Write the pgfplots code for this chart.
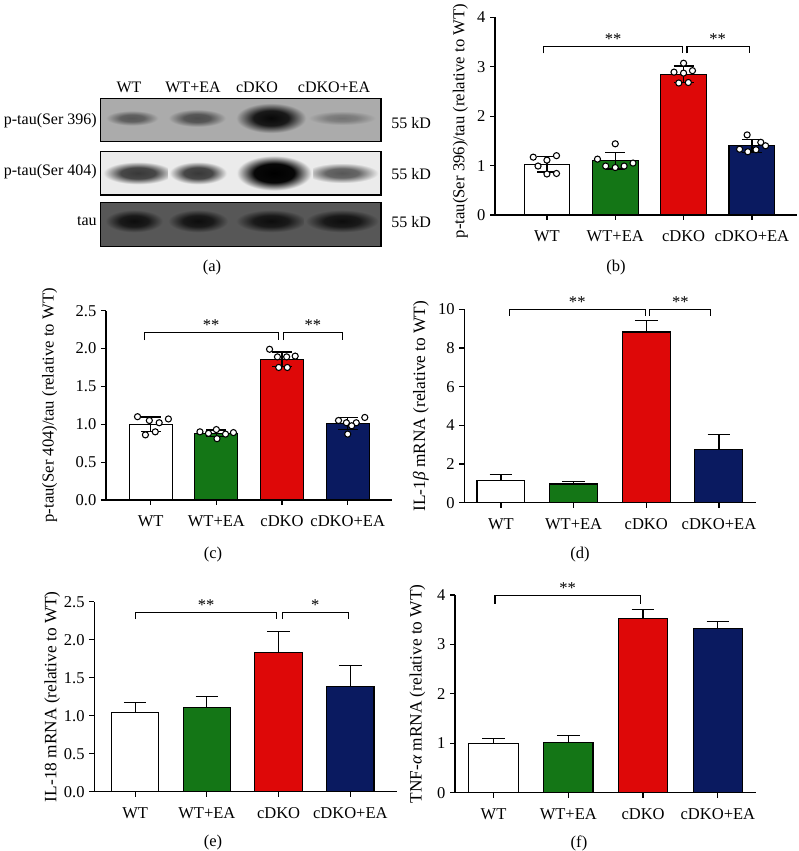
\documentclass[border=0pt]{standalone}
\usepackage{fontspec}
\setmainfont{Liberation Serif}
\usepackage{pgfplots}
\pgfplotsset{compat=1.18}
\definecolor{cgreen}{RGB}{20,118,22}
\definecolor{cred}{RGB}{222,8,8}
\definecolor{cnavy}{RGB}{10,26,96}
\newcommand\ff{\fontsize{12.4}{14.5}\selectfont}
\newcommand\fb{\fontsize{12}{14}\selectfont}
\newcommand\fy{\fontsize{13}{15}\selectfont}
\newcommand\fyp{\fontsize{12.5}{15}\selectfont}

\pgfdeclareradialshading{sOneA}{\pgfpoint{0bp}{0bp}}{color(0bp)=(black!66); color(11bp)=(black!62); color(24bp)=(black!33); color(50bp)=(black!33)}
\pgfdeclareradialshading{sOneB}{\pgfpoint{0bp}{0bp}}{color(0bp)=(black!70); color(11bp)=(black!66); color(24bp)=(black!33); color(50bp)=(black!33)}
\pgfdeclareradialshading{sOneC}{\pgfpoint{0bp}{0bp}}{color(0bp)=(black!97); color(12bp)=(black!90); color(24bp)=(black!33); color(50bp)=(black!33)}
\pgfdeclareradialshading{sOneD}{\pgfpoint{0bp}{0bp}}{color(0bp)=(black!55); color(11bp)=(black!50); color(24bp)=(black!33); color(50bp)=(black!33)}
\pgfdeclareradialshading{sTwoA}{\pgfpoint{0bp}{0bp}}{color(0bp)=(black!78); color(12bp)=(black!72); color(24bp)=(black!8); color(50bp)=(black!8)}
\pgfdeclareradialshading{sTwoC}{\pgfpoint{0bp}{0bp}}{color(0bp)=(black!100); color(13bp)=(black!97); color(24bp)=(black!8); color(50bp)=(black!8)}
\pgfdeclareradialshading{sTwoD}{\pgfpoint{0bp}{0bp}}{color(0bp)=(black!66); color(11bp)=(black!60); color(24bp)=(black!8); color(50bp)=(black!8)}
\pgfdeclareradialshading{sThree}{\pgfpoint{0bp}{0bp}}{color(0bp)=(black!95); color(12bp)=(black!90); color(24bp)=(black!66); color(50bp)=(black!66)}

\pgfplotsset{
  gp/.style={
    anchor=south west, scale only axis, clip=false,
    axis lines=left, axis line style={-, line width=0.9pt, black},
    ymin=0, xtick={0,1,2,3}, xticklabels={WT,WT+EA,cDKO,cDKO+EA},
    tick align=outside, major tick length=3.75pt,
    tick style={line width=0.9pt, black},
    tick label style={font=\ff},
    xticklabel style={yshift=-4.5pt},
    /pgf/number format/assume math mode=true,
    ylabel style={font=\fy},
  },
  onedec/.style={yticklabel style={/pgf/number format/.cd, fixed, fixed zerofill, precision=1}},
  bb/.style={ybar, bar shift=0pt, draw=black, line width=0.8pt, fill=#1},
  ebboth/.style={error bars/y dir=both, error bars/y explicit,
    error bars/error bar style={line width=0.9pt, black},
    error bars/error mark options={rotate=90, line width=0.9pt, black, mark size=7.5pt}},
  ebplus/.style={error bars/y dir=plus, error bars/y explicit,
    error bars/error bar style={line width=0.9pt, black},
    error bars/error mark options={rotate=90, line width=0.9pt, black, mark size=8.5pt}},
  pts/.style={only marks, mark=*, mark size=2.3pt, mark options={fill=white, draw=black, line width=0.8pt}},
  brk/.style={black, line width=0.8pt, mark=none},
}

\begin{document}
\begin{tikzpicture}
\useasboundingbox (0,0) rectangle (599.25pt,638.25pt);

% ---------- overlay axis: western blot (a) and panel letters ----------
\begin{axis}[at={(0pt,0pt)}, anchor=south west, scale only axis,
  width=599.25pt, height=638.25pt, xmin=0, xmax=799, ymin=0, ymax=851,
  y dir=reverse, axis lines=none, clip=false]
\addplot[fill=black!33, draw=none] coordinates {(100.7,98.3) (381,98.3) (381,141.7) (100.7,141.7)} -- cycle;
\addplot[fill=black!8, draw=none] coordinates {(100.7,151.7) (381,151.7) (381,195) (100.7,195)} -- cycle;
\addplot[fill=black!66, draw=none] coordinates {(100.7,202.3) (381,202.3) (381,246.7) (100.7,246.7)} -- cycle;
% strip 1 bands
\shade[shading=sOneA] (axis cs:104.7,110.2) rectangle (axis cs:159.3,125.8);
\shade[shading=sOneB] (axis cs:167.1,108.9) rectangle (axis cs:226.9,127.1);
\shade[shading=sOneD] (axis cs:306.9,110.8) rectangle (axis cs:377.1,125.2);
\shade[shading=sOneC] (axis cs:234.6,102.4) rectangle (axis cs:307.4,133.6);
% strip 2 bands
\shade[shading=sTwoA] (axis cs:101.6,161.3) rectangle (axis cs:174.4,184.7);
\shade[shading=sTwoA] (axis cs:168.1,161.3) rectangle (axis cs:227.9,184.7);
\shade[shading=sTwoD] (axis cs:304.3,162.6) rectangle (axis cs:379.7,183.4);
\shade[shading=sTwoC] (axis cs:235,154.8) rectangle (axis cs:313,191.2);
% strip 3 bands
\shade[shading=sThree] (axis cs:104.1,209.3) rectangle (axis cs:163.9,232.7);
\shade[shading=sThree] (axis cs:166.8,209.3) rectangle (axis cs:229.2,232.7);
\shade[shading=sThree] (axis cs:234.6,209.3) rectangle (axis cs:307.4,232.7);
\shade[shading=sThree] (axis cs:304,209.3) rectangle (axis cs:380,232.7);
% borders
\addplot[draw=black, line width=0.9pt] coordinates {(100.7,98.3) (381,98.3) (381,141.7) (100.7,141.7)} -- cycle;
\addplot[draw=black, line width=0.9pt] coordinates {(100.7,151.7) (381,151.7) (381,195) (100.7,195)} -- cycle;
\addplot[draw=black, line width=0.9pt] coordinates {(100.7,202.3) (381,202.3) (381,246.7) (100.7,246.7)} -- cycle;
% blot labels
\node[font=\fb] at (axis cs:129,87) {WT};
\node[font=\fb] at (axis cs:193,87) {WT+EA};
\node[font=\fb] at (axis cs:257,87) {cDKO};
\node[font=\fb] at (axis cs:334,87) {cDKO+EA};
\node[font=\fb, anchor=east, inner sep=0pt] at (axis cs:97,121) {p-tau(Ser 396)};
\node[font=\fb, anchor=east, inner sep=0pt] at (axis cs:97,172) {p-tau(Ser 404)};
\node[font=\fb, anchor=east, inner sep=0pt] at (axis cs:97,221) {tau};
\node[font=\fb, anchor=west, inner sep=0pt] at (axis cs:391,123) {55 kD};
\node[font=\fb, anchor=west, inner sep=0pt] at (axis cs:391,174) {55 kD};
\node[font=\fb, anchor=west, inner sep=0pt] at (axis cs:391,222) {55 kD};
% panel letters
\node[font=\ff] at (axis cs:212,268) {(a)};
\node[font=\ff] at (axis cs:616,268) {(b)};
\node[font=\ff] at (axis cs:213,555) {(c)};
\node[font=\ff] at (axis cs:580,555) {(d)};
\node[font=\ff] at (axis cs:213,843) {(e)};
\node[font=\ff] at (axis cs:579,843) {(f)};
\end{axis}

% ---------- (b) ----------
\begin{axis}[gp, at={(371.25pt,477pt)}, width=226.5pt, height=148.3pt,
  xmin=-0.76, xmax=3.66, ymax=4, ytick={0,1,2,3,4}, bar width=0.67,
  ylabel={p-tau(Ser 396)/tau (relative to WT)},
  ylabel style={font=\fyp, at={(ticklabel cs:0.475)}}]
\addplot[bb=white, ebboth] coordinates {(0,1.03) +- (0,0.16)};
\addplot[bb=cgreen, ebboth] coordinates {(1,1.10) +- (0,0.17)};
\addplot[bb=cred, ebboth] coordinates {(2,2.85) +- (0,0.165)};
\addplot[bb=cnavy, ebboth] coordinates {(3,1.40) +- (0,0.13)};
\addplot[pts] coordinates {(-0.20,1.17) (0.00,1.11) (0.14,1.20) (-0.13,0.99) (0.00,0.83) (0.14,0.84)};
\addplot[pts] coordinates {(0.74,1.13) (1.00,1.44) (0.86,0.99) (1.00,0.96) (1.13,0.99) (1.26,1.05)};
\addplot[pts] coordinates {(2.00,3.07) (1.86,2.89) (2.00,2.87) (2.13,2.92) (1.93,2.67) (2.07,2.68)};
\addplot[pts] coordinates {(2.93,1.62) (2.82,1.33) (2.94,1.28) (3.06,1.32) (3.13,1.47) (3.20,1.40)};
\addplot[brk] coordinates {(-0.05,3.27) (-0.05,3.41) (1.99,3.41) (1.99,3.27)};
\addplot[brk] coordinates {(2.05,3.27) (2.05,3.41) (2.96,3.41) (2.96,3.27)};
\node[font=\ff, anchor=south, inner sep=1pt] at (axis cs:0.97,3.42) {**};
\node[font=\ff, anchor=south, inner sep=1pt] at (axis cs:2.5,3.42) {**};
\end{axis}

% ---------- (c) ----------
\begin{axis}[gp, onedec, at={(79.5pt,263.25pt)}, width=214.3pt, height=142pt,
  xmin=-0.68, xmax=3.67, ymax=2.5, ytick={0,0.5,1,1.5,2,2.5}, bar width=0.655,
  ylabel={p-tau(Ser 404)/tau (relative to WT)},
  ylabel style={font=\fyp}, ylabel shift=7pt]
\addplot[bb=white, ebboth] coordinates {(0,1.00) +- (0,0.095)};
\addplot[bb=cgreen, ebboth] coordinates {(1,0.88) +- (0,0.045)};
\addplot[bb=cred, ebboth] coordinates {(2,1.86) +- (0,0.095)};
\addplot[bb=cnavy, ebboth] coordinates {(3,1.01) +- (0,0.08)};
\addplot[pts] coordinates {(-0.20,1.10) (-0.02,1.05) (0.13,1.02) (0.27,1.07) (-0.08,0.86) (0.07,0.90)};
\addplot[pts] coordinates {(0.75,0.90) (0.88,0.88) (1.00,0.93) (1.01,0.81) (1.14,0.87) (1.26,0.89)};
\addplot[pts] coordinates {(1.81,1.99) (1.93,1.89) (2.07,1.89) (2.20,1.90) (1.95,1.75) (2.08,1.75)};
\addplot[pts] coordinates {(2.86,1.05) (2.98,1.02) (3.13,1.02) (3.26,1.09) (3.00,0.87) (3.06,0.98)};
\addplot[brk] coordinates {(-0.10,2.11) (-0.10,2.21) (1.95,2.21) (1.95,2.11)};
\addplot[brk] coordinates {(2.02,2.11) (2.02,2.21) (2.92,2.21) (2.92,2.11)};
\node[font=\ff, anchor=south, inner sep=1pt] at (axis cs:0.92,2.215) {**};
\node[font=\ff, anchor=south, inner sep=1pt] at (axis cs:2.47,2.215) {**};
\end{axis}

% ---------- (d) ----------
\begin{axis}[gp, at={(348.2pt,261.2pt)}, width=218.8pt, height=145pt,
  xmin=-0.505, xmax=3.51, ymax=10, ytick={0,2,4,6,8,10}, bar width=0.66,
  ylabel={IL-1{\itshape β} mRNA (relative to WT)}]
\addplot[bb=white, ebplus] coordinates {(0,1.17) +- (0,0.30)};
\addplot[bb=cgreen, ebplus] coordinates {(1,0.97) +- (0,0.12)};
\addplot[bb=cred, ebplus] coordinates {(2,8.83) +- (0,0.58)};
\addplot[bb=cnavy, ebplus] coordinates {(3,2.76) +- (0,0.77)};
\addplot[brk] coordinates {(0.12,9.66) (0.12,10) (1.99,10) (1.99,9.66)};
\addplot[brk] coordinates {(2.05,9.66) (2.05,10) (2.88,10) (2.88,9.66)};
\node[font=\ff, anchor=south, inner sep=1pt] at (axis cs:1.05,10.02) {**};
\node[font=\ff, anchor=south, inner sep=1pt] at (axis cs:2.47,10.02) {**};
\end{axis}

% ---------- (e) ----------
\begin{axis}[gp, onedec, at={(70.7pt,44.5pt)}, width=227pt, height=142.5pt,
  xmin=-0.57, xmax=3.65, ymax=2.5, ytick={0,0.5,1,1.5,2,2.5}, bar width=0.66,
  ylabel={IL-18 mRNA (relative to WT)}, ylabel shift=-4pt]
\addplot[bb=white, ebplus] coordinates {(0,1.04) +- (0,0.13)};
\addplot[bb=cgreen, ebplus] coordinates {(1,1.105) +- (0,0.145)};
\addplot[bb=cred, ebplus] coordinates {(2,1.83) +- (0,0.28)};
\addplot[bb=cnavy, ebplus] coordinates {(3,1.38) +- (0,0.28)};
\addplot[brk] coordinates {(0.01,2.27) (0.01,2.36) (1.97,2.36) (1.97,2.27)};
\addplot[brk] coordinates {(2.05,2.27) (2.05,2.36) (2.98,2.36) (2.98,2.27)};
\node[font=\ff, anchor=south, inner sep=1pt] at (axis cs:0.99,2.365) {**};
\node[font=\ff, anchor=south, inner sep=1pt] at (axis cs:2.51,2.365) {*};
\end{axis}

% ---------- (f) ----------
\begin{axis}[gp, at={(341.25pt,43.7pt)}, width=225.75pt, height=148.3pt,
  xmin=-0.515, xmax=3.51, ymax=4, ytick={0,1,2,3,4}, bar width=0.66,
  ylabel={TNF-{\itshape α} mRNA (relative to WT)}, ylabel shift=2pt]
\addplot[bb=white, ebplus] coordinates {(0,1.00) +- (0,0.09)};
\addplot[bb=cgreen, ebplus] coordinates {(1,1.02) +- (0,0.13)};
\addplot[bb=cred, ebplus] coordinates {(2,3.52) +- (0,0.18)};
\addplot[bb=cnavy, ebplus] coordinates {(3,3.32) +- (0,0.15)};
\addplot[brk] coordinates {(0.02,3.82) (0.02,3.99) (1.97,3.99) (1.97,3.82)};
\node[font=\ff, anchor=south, inner sep=1pt] at (axis cs:0.99,4.0) {**};
\end{axis}
\end{tikzpicture}
\end{document}
